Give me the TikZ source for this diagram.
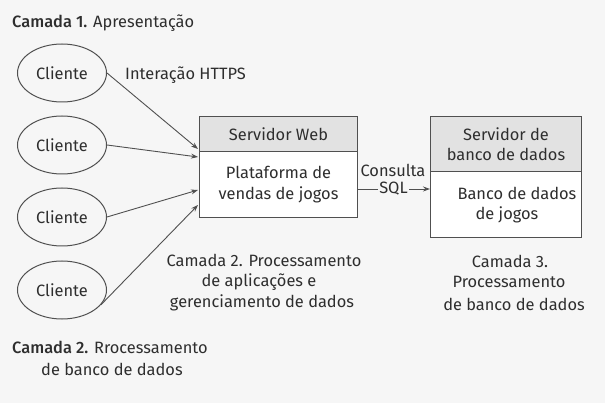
\documentclass[tikz,border=0pt]{standalone}
\usepackage{fontspec}
\setmainfont{Fira Sans}[BoldFont={Fira Sans Medium}]
\usetikzlibrary{shapes.geometric,arrows.meta}
\definecolor{bg}{HTML}{F6F6F6}
\definecolor{hd}{HTML}{E2E2E2}
\definecolor{ln}{HTML}{505050}
\definecolor{tx}{HTML}{2E2E2E}
\tikzset{
  cli/.style={ellipse, draw=ln, line width=1pt, minimum width=89pt, minimum height=58pt, inner sep=0pt, text=tx},
  box/.style={rectangle, draw=ln, line width=1pt, anchor=north west, inner sep=0pt, text=tx, align=center},
  lbl/.style={anchor=base, inner sep=0pt, text=tx},
  lblw/.style={anchor=base west, inner sep=0pt, text=tx},
  conn/.style={draw=ln, line width=0.9pt, -{Stealth[length=7pt,width=5pt]}},
}
\begin{document}
\begin{tikzpicture}[x=1pt,y=-1pt,font=\fontsize{16.4}{20.5}\selectfont]
\useasboundingbox[fill=bg] (0,0) rectangle (605,403);
% clients
\node[cli] (c1) at (62,73) {Cliente};
\node[cli] (c2) at (62,145) {Cliente};
\node[cli] (c3) at (62,217) {Cliente};
\node[cli] (c4) at (62,290) {Cliente};
% web server
\node[box, fill=hd, minimum width=158pt, minimum height=35pt] (wh) at (199,116) {Servidor Web};
\node[box, fill=white, minimum width=158pt, minimum height=66pt] (wb) at (199,151) {Plataforma de\\vendas de jogos};
% db server
\node[box, fill=hd, minimum width=151pt, minimum height=55pt] (dh) at (430,116) {Servidor de\\banco de dados};
\node[box, fill=white, minimum width=151pt, minimum height=66pt] (db) at (430,171) {};
\node[lbl] (dbt1) at (517,200) {Banco de dados};
\node[lbl] (dbt2) at (507,220) {de jogos};
% arrow targets
\coordinate (t1) at (198,149);
\coordinate (t2) at (198,157);
\coordinate (t3) at (198,190);
\coordinate (t4) at (198,205);
\draw[conn] (c1.east) -- (t1);
\draw[conn] (c2.east) -- (t2);
\draw[conn] (c3.east) -- (t3);
\draw[conn] (c4.-21) -- (t4);
% SQL
\coordinate (s0) at (357,189);
\coordinate (s1) at (430,189);
\draw[conn] (s0) -- node[fill=bg, inner sep=1.5pt, text=tx] (sql) {SQL} (s1);
\node[lbl] (cons) at (393,177) {Consulta};
% labels
\node[lblw] (l1) at (12,28) {\textbf{Camada 1.} Apresentação};
\node[lblw] (http) at (125,80) {Interação HTTPS};
\node[lbl] (m1) at (264,267) {Camada 2. Processamento};
\node[lbl] (m2) at (259,287) {de aplicações e};
\node[lbl] (m3) at (262,308) {gerenciamento de dados};
\node[lbl] (r1) at (510,268) {Camada 3.};
\node[lbl] (r2) at (509,288) {Processamento};
\node[lbl] (r3) at (514,310) {de banco de dados};
\node[lblw] (b1) at (12,353) {\textbf{Camada 2.} Rrocessamento};
\node[lblw] (b2) at (41,375) {de banco de dados};
\end{tikzpicture}
\end{document}
